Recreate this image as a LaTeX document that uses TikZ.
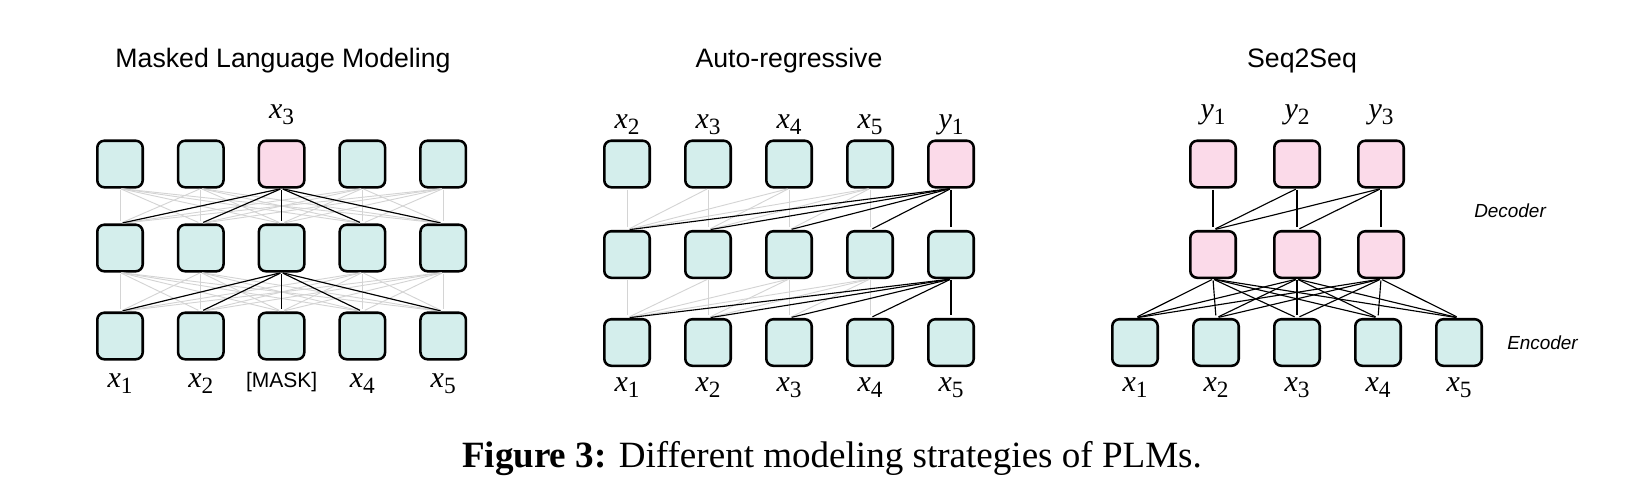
\documentclass[tikz,border=0pt]{standalone}
\usepackage{fontspec}
\setmainfont{Liberation Serif}
\newfontfamily\helv{Liberation Sans}
\definecolor{tealcell}{RGB}{212,238,236}
\definecolor{pinkcell}{RGB}{251,218,233}
\definecolor{faintgrey}{RGB}{212,212,212}
% token label: italic letter with a large subscript
\newcommand{\tok}[2]{{\fontsize{22.5}{22}\selectfont\itshape #1}\raisebox{-5pt}{\fontsize{17.5}{18}\selectfont #2}}
\tikzset{
  cell/.style={draw=black, line width=1.9pt, rounded corners=5.25pt, minimum width=34.1pt, minimum height=34.9pt, inner sep=0pt},
  enc/.style={cell, fill=tealcell},
  dec/.style={cell, fill=pinkcell},
  faint/.style={draw=faintgrey, line width=0.7pt, shorten <=1pt, shorten >=2pt},
  link/.style={draw=black, line width=0.85pt, shorten <=1pt, shorten >=2pt},
  lbl/.style={anchor=base, inner sep=0pt},
  heading/.style={anchor=base, inner sep=0pt, font=\helv\fontsize{20}{21}\selectfont},
  side/.style={anchor=base west, inner sep=0pt, font=\helv\itshape\fontsize{14.2}{15}\selectfont}
}
\begin{document}
\begin{tikzpicture}[x=0.75pt,y=0.75pt,yscale=-1,xscale=1]
    \useasboundingbox (0,0) rectangle (1636,500);
    % Text Node
    \node[heading] (mlmtitle) at (283,67) {Masked Language Modeling};
    \node[heading] (artitle) at (789,67) {Auto-regressive};
    \node[heading] (sstitle) at (1302,67) {Seq2Seq};

    %Shape: Masked LM cells
    \foreach \i in {1,...,5} {
      \node[enc] (mm\i) at ({120+80.8*(\i-1)},248) {};
      \node[enc] (mb\i) at ({120+80.8*(\i-1)},336) {};
    }
    \foreach \i in {1,2,4,5} \node[enc] (mt\i) at ({120+80.8*(\i-1)},164) {};
    \node[dec] (mt3) at (281.6,164) {};
    % full attention
    \foreach \i in {1,...,5} \foreach \j in {1,...,5} {
      \draw[faint] (mt\i.south) -- (mm\j.north);
      \draw[faint] (mm\i.south) -- (mb\j.north);
    }
    \foreach \j in {1,...,5} {
      \draw[link] (mt3.south) -- (mm\j.north);
      \draw[link] (mm3.south) -- (mb\j.north);
    }
    % Text Node
    \node[lbl] (mlmy) at (281.6,118) {\tok{x}{3}};
    \node[lbl] (mlmx1) at (120,387) {\tok{x}{1}};
    \node[lbl] (mlmx2) at (200.8,387) {\tok{x}{2}};
    \node[lbl, font=\helv\fontsize{15.75}{16}\selectfont] (mlmmask) at (281.6,387) {[MASK]};
    \node[lbl] (mlmx4) at (362.4,387) {\tok{x}{4}};
    \node[lbl] (mlmx5) at (443.2,387) {\tok{x}{5}};

    %Shape: Auto-regressive cells
    \foreach \i in {1,...,5} {
      \node[enc] (am\i) at ({627+81*(\i-1)},254.5) {};
      \node[enc] (ab\i) at ({627+81*(\i-1)},342.5) {};
    }
    \foreach \i in {1,...,4} \node[enc] (at\i) at ({627+81*(\i-1)},164) {};
    \node[dec] (at5) at (951,164) {};
    % left-to-right attention
    \foreach \i in {1,...,4} \foreach \j in {1,...,\i} {
      \draw[faint] (at\i.south) -- (am\j.north);
      \draw[faint] (am\i.south) -- (ab\j.north);
    }
    \foreach \j in {1,...,5} {
      \draw[link] (at5.south) -- (am\j.north);
      \draw[link] (am5.south) -- (ab\j.north);
    }
    % Text Node
    \foreach \i/\t in {1/2,2/3,3/4,4/5} \node[lbl] (arout\i) at ({627+81*(\i-1)},128) {\tok{x}{\t}};
    \node[lbl] (arout5) at (951,128) {\tok{y}{1}};
    \foreach \i in {1,...,5} \node[lbl] (arin\i) at ({627+81*(\i-1)},391) {\tok{x}{\i}};

    %Shape: Seq2Seq cells
    \foreach \i in {1,...,3} {
      \node[dec] (st\i) at ({1213+84*(\i-1)},164) {};
      \node[dec] (sm\i) at ({1213+84*(\i-1)},254.5) {};
    }
    \foreach \i in {1,...,5} \node[enc] (sb\i) at ({1135+81*(\i-1)},342.5) {};
    % decoder and cross attention
    \foreach \i in {1,...,3} \foreach \j in {1,...,\i} \draw[link] (st\i.south) -- (sm\j.north);
    \foreach \i in {1,...,3} \foreach \j in {1,...,5} \draw[link] (sm\i.south) -- (sb\j.north);
    % Text Node
    \foreach \i in {1,...,3} \node[lbl] (ssout\i) at ({1213+84*(\i-1)},118) {\tok{y}{\i}};
    \foreach \i in {1,...,5} \node[lbl] (ssin\i) at ({1135+81*(\i-1)},391) {\tok{x}{\i}};
    \node[side] (declabel) at (1474,217) {Decoder};
    \node[side] (enclabel) at (1507,349) {Encoder};

    % Text Node
    \node[anchor=base, inner sep=0pt, font=\fontsize{27.8}{29}\selectfont] (caption) at (832,467) {\textbf{Figure 3:} Different modeling strategies of PLMs.};
\end{tikzpicture}
\end{document}
